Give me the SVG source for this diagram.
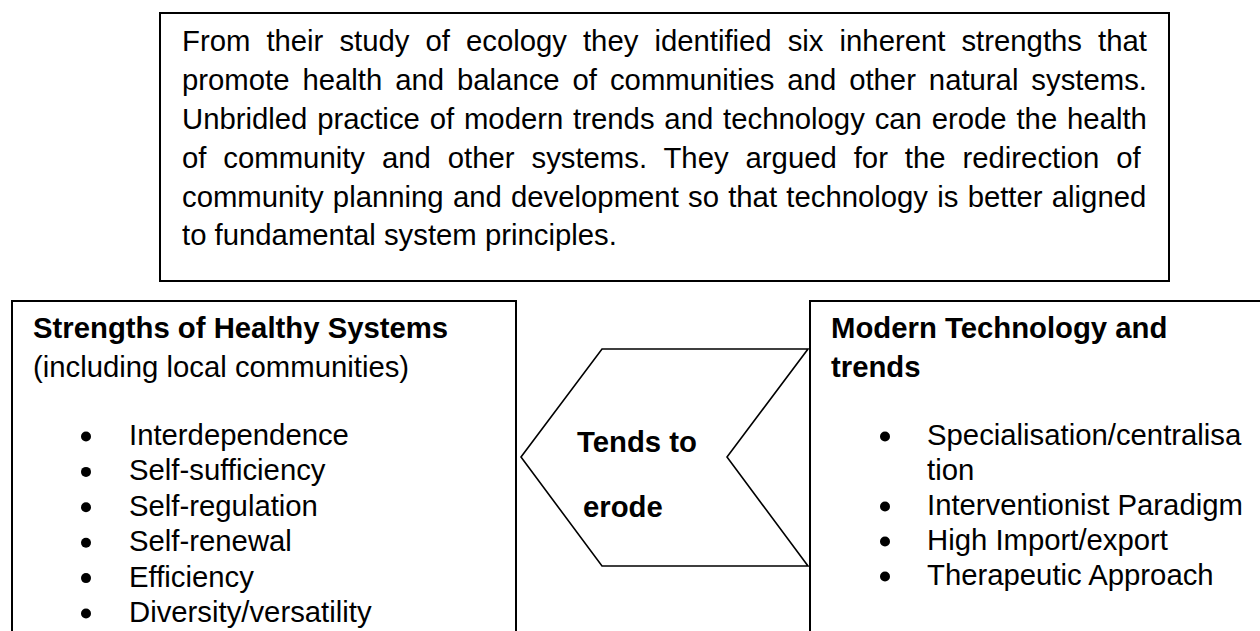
<svg xmlns="http://www.w3.org/2000/svg" width="1260" height="631" viewBox="0 0 1260 631">
  <style>
    .box { fill: #ffffff; stroke: #000000; stroke-width: 2; }
    .chevron { fill: #ffffff; stroke: #000000; stroke-width: 1.6; stroke-linejoin: miter; }
    .body { font-family: "Liberation Sans", Arial, sans-serif; font-size: 29.3px; fill: #000000; }
    .bold { font-family: "Liberation Sans", Arial, sans-serif; font-size: 29.3px; font-weight: bold; fill: #000000; }
    .dot { fill: #000000; }
  </style>
  <rect width="1260" height="631" fill="#ffffff"/>

  <!-- Summary paragraph (justified lines use word-spacing) -->
  <g id="summary">
    <rect class="box" x="160" y="13" width="1009" height="268"/>
    <text class="body" x="182" y="51" style="word-spacing:7.9px">From their study of ecology they identified six inherent strengths that</text>
    <text class="body" x="182" y="90" style="word-spacing:4.8px">promote health and balance of communities and other natural systems.</text>
    <text class="body" x="182" y="129" style="word-spacing:1.7px">Unbridled practice of modern trends and technology can erode the health</text>
    <text class="body" x="182" y="168" style="word-spacing:8.8px">of community and other systems. They argued for the redirection of</text>
    <text class="body" x="182" y="207" style="word-spacing:1.1px">community planning and development so that technology is better aligned</text>
    <text class="body" x="182" y="245">to fundamental system principles.</text>
  </g>

  <!-- Left panel: strengths of healthy systems -->
  <g id="strengths">
    <rect class="box" x="12" y="301" width="504" height="345"/>
    <text class="bold" x="33" y="338">Strengths of Healthy Systems</text>
    <text class="body" x="33" y="377">(including local communities)</text>
    <circle class="dot" cx="86" cy="436.5" r="5"/>
    <text class="body" x="129" y="445">Interdependence</text>
    <circle class="dot" cx="86" cy="471.9" r="5"/>
    <text class="body" x="129" y="480.4">Self-sufficiency</text>
    <circle class="dot" cx="86" cy="507.3" r="5"/>
    <text class="body" x="129" y="515.8">Self-regulation</text>
    <circle class="dot" cx="86" cy="542.7" r="5"/>
    <text class="body" x="129" y="551.2">Self-renewal</text>
    <circle class="dot" cx="86" cy="578.1" r="5"/>
    <text class="body" x="129" y="586.6">Efficiency</text>
    <circle class="dot" cx="86" cy="613.5" r="5"/>
    <text class="body" x="129" y="622">Diversity/versatility</text>
  </g>

  <!-- Right panel: modern technology and trends -->
  <g id="technology">
    <rect class="box" x="810" y="301" width="470" height="345"/>
    <text class="bold" x="831" y="338">Modern Technology and</text>
    <text class="bold" x="831" y="377">trends</text>
    <circle class="dot" cx="885" cy="436.5" r="5"/>
    <text class="body" x="927" y="445">Specialisation/centralisa</text>
    <text class="body" x="927" y="480">tion</text>
    <circle class="dot" cx="885" cy="506.5" r="5"/>
    <text class="body" x="927" y="515">Interventionist Paradigm</text>
    <circle class="dot" cx="885" cy="541.5" r="5"/>
    <text class="body" x="927" y="550">High Import/export</text>
    <circle class="dot" cx="885" cy="576.5" r="5"/>
    <text class="body" x="927" y="585">Therapeutic Approach</text>
  </g>

  <!-- Left-pointing chevron linking the two panels -->
  <g id="connectors">
    <polygon class="chevron" points="521,457 602,349 808,349 727,457 808,566 602,566"/>
    <text class="bold" x="577" y="452">Tends to</text>
    <text class="bold" x="583" y="517">erode</text>
  </g>
</svg>
